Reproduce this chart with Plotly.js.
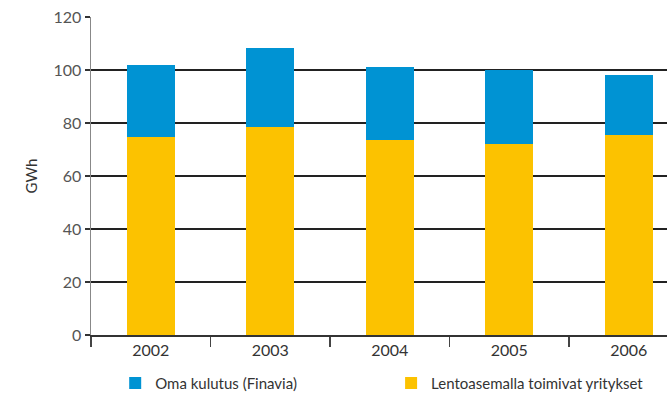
<!DOCTYPE html>
<html><head><meta charset="utf-8">
<script src="https://cdn.plot.ly/plotly-3.0.1.min.js"></script>
<style>html,body{margin:0;padding:0;overflow:hidden;background:#fff}</style>
</head><body><div id="chart" style="width:667px;height:395px"></div>
<script>
const years = ['2002','2003','2004','2005','2006'];
const companies = [74.7, 78.5, 73.6, 72.1, 75.5];   // Lentoasemalla toimivat yritykset
const ownUse = [27.2, 29.8, 27.5, 27.9, 22.7];       // Oma kulutus (Finavia)
const yTicks = [0, 20, 40, 60, 80, 100, 120];

const font = 'Lato, "Open Sans", sans-serif';
const traces = [
  {type:'bar', x:years, y:companies, name:'Lentoasemalla toimivat yritykset',
   marker:{color:'#FCC200'}, width:0.4, legend:'legend2'},
  {type:'bar', x:years, y:ownUse, name:'Oma kulutus (Finavia)',
   marker:{color:'#0093D3'}, width:0.4, legend:'legend'}
];
const legBase = {orientation:'h', y:-0.1, xanchor:'left', yanchor:'top',
  font:{size:15, color:'#333'}, bgcolor:'rgba(0,0,0,0)'};
const layout = {
  width:667, height:395, autosize:false,
  barmode:'stack',
  margin:{l:91, r:0, t:17, b:60, autoexpand:false},
  paper_bgcolor:'#fff', plot_bgcolor:'#fff',
  font:{family:font, size:15, color:'#333'},
  showlegend:true,
  legend:Object.assign({}, legBase, {x:0.042}),
  legend2:Object.assign({}, legBase, {x:0.521}),
  xaxis:{type:'category', range:[-0.5, 4.32], tickson:'boundaries',
    ticks:'outside', ticklen:10, tickcolor:'#444', tickwidth:1.5,
    showline:true, linecolor:'#333', linewidth:1.5, showgrid:false,
    tickfont:{size:16, color:'#333'}},
  yaxis:{range:[0,120], tickvals:yTicks, ticks:'outside', ticklen:5,
    tickcolor:'#333', tickwidth:1.5, showline:true, linecolor:'#888', linewidth:1.5,
    showgrid:true, gridcolor:'#222', gridwidth:1.5, zeroline:false,
    tickfont:{size:16, color:'#555'},
    title:{text:'GWh', font:{size:15, color:'#333'}, standoff:12}}
};
Plotly.newPlot('chart', traces, layout, {displayModeBar:false, staticPlot:true});
</script></body></html>
